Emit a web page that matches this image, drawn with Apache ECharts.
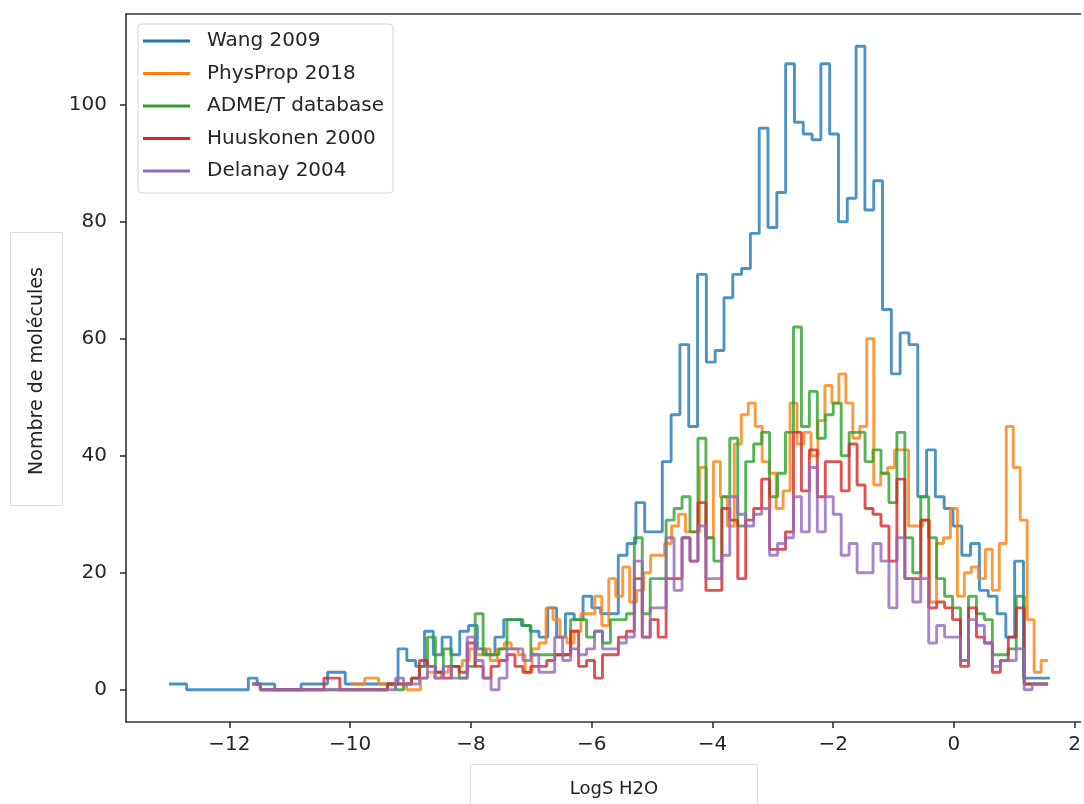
<!DOCTYPE html>
<html><head><meta charset="utf-8">
<script src="https://cdn.jsdelivr.net/npm/echarts@6/dist/echarts.min.js"></script>
<style>html,body{margin:0;padding:0;background:#fff}#c{width:1084px;height:804px}</style>
</head><body><div id="c"></div>
<script>
const seriesNames = ['Wang 2009', 'PhysProp 2018', 'ADME/T database', 'Huuskonen 2000', 'Delanay 2004'];
const seriesColors = ['#1f77b4', '#ff7f0e', '#2ca02c', '#d62728', '#9467bd'];

// histogram bins (LogS units)
const wangBinStart = -13.0, wangBinWidth = 0.1459;
const physPropBinStart = -9.99, physPropBinWidth = 0.1155;
const sharedBinStart = -11.62, sharedBinWidth = 0.1318;

const wangCounts = [1,1,0,0,0,0,0,0,0,2, 1,1,0,0,0,1,1,1,3,3, 1,1,1,1,1,1,7,5,4,10,
  6,9,6,10,11,7,6,9,12,12, 11,10,9,14,9,13,12,16,14,13, 13,23,25,32,27,27,39,47,59,45,
  71,56,58,67,71,72,78,96,79,85, 107,97,95,94,107,95,80,84,110,82, 87,65,54,61,59,33,41,33,31,28,
  23,25,17,16,13,9,22,2,2,2];
const physPropCounts = [1,1,2,2,1,1,1,1,0,0, 2,3,2,3,4,4,5,7,6,7, 5,7,8,7,6,3,7,8,14,12,
  9,8,10,13,13,16,11,19,16,21, 15,17,20,23,23,25,28,30,27,27, 38,26,39,33,28,42,47,49,45,39,
  37,31,34,49,42,44,40,46,52,49, 54,49,43,45,60,35,37,38,41,41, 28,28,29,15,25,26,31,16,20,21,
  19,24,17,25,45,38,29,12,3,5];
const admeCounts = [1,0,0,0,0,0,0,0,0,0, 0,0,0,0,0,0,0,1,0,1, 2,4,9,3,7,4,2,4,13,6,
  6,7,12,12,11,6,6,6,6,6, 12,12,9,10,8,12,12,13,26,13, 19,19,29,31,33,27,43,26,22,33,
  43,28,39,42,44,33,37,44,62,45, 51,43,47,49,40,44,44,39,41,37, 32,44,26,20,33,26,19,16,14,5,
  16,13,12,6,6,7,16,1,1,1];
const huuskonenCounts = [1,0,0,0,0,0,0,0,0,2, 2,0,0,0,0,0,0,1,1,1, 2,5,4,3,2,4,3,8,4,2,
  4,5,6,4,3,4,4,5,6,6, 10,4,5,2,6,6,9,10,19,9, 12,9,19,19,26,22,32,17,17,31,
  29,19,29,31,36,24,24,27,44,34, 41,33,39,39,34,42,35,31,30,28, 22,36,19,19,29,14,15,14,12,4,
  14,9,8,3,5,9,14,1,1,1];
const delanayCounts = [1,0,0,0,0,0,0,0,0,0, 0,0,0,0,0,0,0,0,2,1, 1,2,4,2,4,2,2,9,5,2,
  0,2,7,7,5,6,3,3,9,5, 7,6,7,10,7,7,8,9,22,9, 14,14,26,17,26,22,28,19,19,23,
  33,30,28,30,31,23,25,26,33,27, 38,27,33,30,23,25,20,20,25,22, 14,26,19,15,19,8,11,9,9,5,
  12,11,8,4,5,5,7,0,1,1];

const xTickValues = [-12, -10, -8, -6, -4, -2, 0, 2];
const yTickValues = [0, 20, 40, 60, 80, 100];
const xLabel = 'LogS H2O';
const yLabel = 'Nombre de molécules';

function stepData(start, width, counts) {
  const pts = counts.map((c, i) => [start + i * width, c]);
  pts.push([start + counts.length * width, counts[counts.length - 1]]);
  return pts;
}
const allSeries = [
  stepData(wangBinStart, wangBinWidth, wangCounts),
  stepData(physPropBinStart, physPropBinWidth, physPropCounts),
  stepData(sharedBinStart, sharedBinWidth, admeCounts),
  stepData(sharedBinStart, sharedBinWidth, huuskonenCounts),
  stepData(sharedBinStart, sharedBinWidth, delanayCounts)
];

const FONT = 'DejaVu Sans';
const axisColor = '#333';
const fmt = v => (v < 0 ? '\u2212' + Math.abs(v) : String(v));

const chart = echarts.init(document.getElementById('c'), null, {renderer: 'canvas'});
chart.setOption({
  animation: false,
  backgroundColor: '#fff',
  grid: {left: 126, top: 14, right: 0, bottom: 82, show: false},
  xAxis: [{
    type: 'value', min: -13.713, max: 2.096, position: 'bottom',
    axisLine: {show: true, onZero: false, lineStyle: {color: axisColor, width: 1.6}},
    axisTick: {show: true, length: 6, customValues: xTickValues, lineStyle: {color: axisColor, width: 1.6}},
    axisLabel: {customValues: xTickValues, formatter: fmt, fontSize: 20, fontFamily: FONT, color: '#262626', margin: 13},
    splitLine: {show: false}
  }, {
    type: 'value', min: -13.713, max: 2.096, position: 'top',
    axisLine: {show: true, onZero: false, lineStyle: {color: axisColor, width: 1.6}},
    axisTick: {show: false}, axisLabel: {show: false}, splitLine: {show: false}
  }],
  yAxis: {
    type: 'value', min: -5.5, max: 115.5,
    axisLine: {show: true, onZero: false, lineStyle: {color: axisColor, width: 1.6}},
    axisTick: {show: true, length: 6, customValues: yTickValues, lineStyle: {color: axisColor, width: 1.6}},
    axisLabel: {customValues: yTickValues, formatter: fmt, fontSize: 20, fontFamily: FONT, color: '#262626', margin: 19},
    splitLine: {show: false}
  },
  legend: {
    orient: 'vertical', left: 138, top: 24,
    data: seriesNames,
    icon: 'rect', itemWidth: 47, itemHeight: 3, itemGap: 12.5,
    padding: [7, 9, 12, 5],
    backgroundColor: 'rgba(255,255,255,0.85)', borderColor: '#d6d6d6', borderWidth: 1, borderRadius: 4,
    textStyle: {fontSize: 20, fontFamily: FONT, color: '#262626', lineHeight: 20, padding: [0, 0, 0, 12]}
  },
  graphic: [
    {type: 'rect', shape: {x: 10.5, y: 232.5, width: 52, height: 273}, style: {fill: '#fff', stroke: '#dcdcdc', lineWidth: 1}},
    {type: 'text', x: 37, y: 371, rotation: Math.PI / 2,
      style: {text: yLabel, font: '19px "DejaVu Sans"', fill: '#222', align: 'center', verticalAlign: 'middle'}},
    {type: 'rect', shape: {x: 470.5, y: 764.5, width: 287, height: 45}, style: {fill: '#fff', stroke: '#dcdcdc', lineWidth: 1}},
    {type: 'text', x: 614, y: 789,
      style: {text: xLabel, font: '18px "DejaVu Sans"', fill: '#222', align: 'center', verticalAlign: 'middle'}}
  ],
  series: seriesNames.map((name, i) => ({
    name, type: 'line', step: 'end', symbol: 'none', showSymbol: false,
    data: allSeries[i],
    color: seriesColors[i],
    lineStyle: {color: seriesColors[i], width: 2.9, opacity: 0.8},
    emphasis: {disabled: true}
  }))
});
</script>
</body></html>
